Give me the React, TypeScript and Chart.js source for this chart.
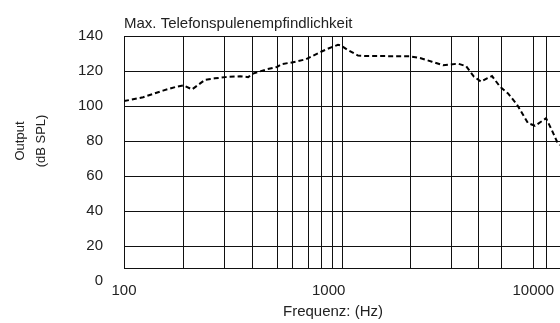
import { useEffect, useRef } from 'react';
import { Chart, registerables } from 'chart.js';

Chart.register(...registerables);

const FONT = '"Liberation Sans", Arial, Helvetica, sans-serif';

const titleText = 'Max. Telefonspulenempfindlichkeit';
const xTitle = 'Frequenz: (Hz)';
const yTitleLines = ['Output', '(dB SPL)'];

const frequencies = [
  100, 124, 155, 180, 195, 215, 249, 278, 312, 369, 404, 427, 500, 559, 592, 670, 775, 918,
  1004, 1111, 1149, 1229, 1391, 1505, 2498, 2795, 3199, 3622, 4286, 4690, 5132, 5552, 5939,
  6284, 6877, 7522, 8325, 8906, 9420, 10190, 10900, 11540, 12340, 13060, 13500,
];
const outputDb = [
  102.8, 105, 108.8, 111, 111.8, 109.5, 115, 115.8, 116.5, 117, 116.5, 118.5, 121, 122.3, 124,
  125, 126.7, 131, 133, 135, 134.6, 132.3, 128.8, 128.6, 128.4, 127.4, 125.3, 123.3, 124.2,
  122.8, 116.7, 113.9, 115.8, 117.1, 111, 107.2, 100.8, 95, 90.2, 88.7, 91, 93, 86, 79.6, 77.7,
];

const xGridTicks = [
  100, 195, 310, 425, 563, 666, 797, 918, 1000, 1044, 1169, 2512, 3983, 5398, 6954, 10000,
  11600, 13500,
];
const xLabelTicks = [100, 1000, 10000];
const xMin = 100;
const xMax = 13500;

const yTicks = [0, 20, 40, 60, 80, 100, 120, 140];
const yMin = 7.43;
const yMax = 140;

const textPlugin = {
  id: 'customTexts',
  afterDraw(chart: any) {
    const { ctx, chartArea } = chart;
    ctx.save();
    ctx.fillStyle = '#222';
    ctx.textBaseline = 'alphabetic';
    ctx.font = `15px ${FONT}`;
    ctx.textAlign = 'left';
    ctx.fillText(titleText, chartArea.left, 28);
    ctx.textAlign = 'center';
    ctx.fillText(xTitle, 333, 316);
    ctx.font = `13px ${FONT}`;
    yTitleLines.forEach((line, i) => {
      ctx.save();
      ctx.translate(24 + i * 21, 141);
      ctx.rotate(-Math.PI / 2);
      ctx.fillText(line, 0, 0);
      ctx.restore();
    });
    ctx.restore();
  },
};

export default function App() {
  const canvasRef = useRef<HTMLCanvasElement | null>(null);

  useEffect(() => {
    document.body.style.margin = '0';
    const canvas = canvasRef.current;
    if (!canvas) return;
    const chart = new Chart(canvas, {
      type: 'line',
      data: {
        datasets: [
          {
            data: frequencies.map((f, i) => ({ x: f, y: outputDb[i] })),
            borderColor: '#000',
            borderWidth: 2,
            borderDash: [5, 3],
            pointRadius: 0,
            fill: false,
            tension: 0,
          },
        ],
      },
      options: {
        responsive: false,
        animation: false,
        layout: { padding: { top: 36, left: 0, right: 0, bottom: 0 } },
        plugins: {
          legend: { display: false },
          title: { display: false },
          tooltip: { enabled: false },
        },
        scales: {
          x: {
            type: 'logarithmic',
            min: xMin,
            max: xMax,
            afterBuildTicks: (axis: any) => {
              axis.ticks = xGridTicks.map((v) => ({ value: v }));
            },
            afterFit: (axis: any) => {
              axis.height = 55;
              axis.paddingLeft = 0;
              axis.paddingRight = 0;
            },
            ticks: {
              autoSkip: false,
              maxRotation: 0,
              minRotation: 0,
              padding: 14,
              color: '#222',
              font: { family: FONT, size: 15 },
              callback: (v: any) => (xLabelTicks.includes(Number(v)) ? String(v) : ''),
            },
            grid: {
              drawTicks: false,
              lineWidth: 1,
              color: (ctx: any) =>
                ctx.tick && ctx.tick.value === 1000 ? 'rgba(0,0,0,0)' : '#111',
            },
            border: { display: true, color: '#111', width: 1 },
          },
          y: {
            type: 'linear',
            min: yMin,
            max: yMax,
            afterBuildTicks: (axis: any) => {
              axis.ticks = yTicks.map((v) => ({ value: v }));
            },
            afterFit: (axis: any) => {
              axis.width = 124;
              axis.paddingTop = 0;
              axis.paddingBottom = 0;
            },
            ticks: {
              autoSkip: false,
              padding: 21,
              color: '#222',
              font: { family: FONT, size: 15 },
              callback: (v: any) => String(v),
            },
            grid: {
              drawTicks: false,
              lineWidth: 1,
              color: (ctx: any) =>
                ctx.tick && ctx.tick.value === 0 ? 'rgba(0,0,0,0)' : '#111',
            },
            border: { display: true, color: '#111', width: 1 },
          },
        },
      },
      plugins: [textPlugin],
    } as any);
    return () => chart.destroy();
  }, []);

  return (
    <div style={{ width: 560, height: 323 }}>
      <canvas ref={canvasRef} width={560} height={323} style={{ display: 'block' }} />
    </div>
  );
}
